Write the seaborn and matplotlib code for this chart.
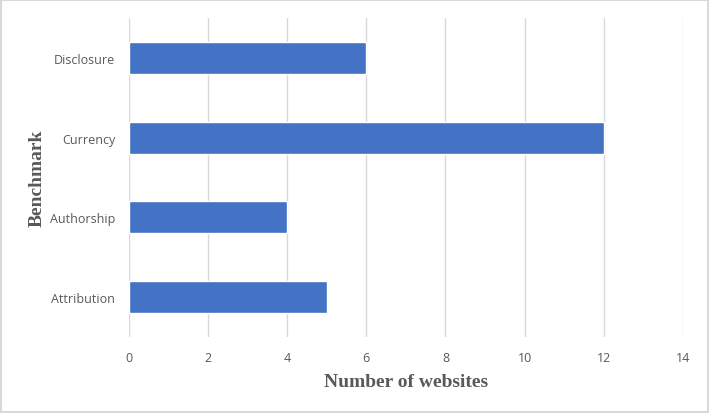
import matplotlib
matplotlib.use("Agg")
import matplotlib.pyplot as plt
import seaborn as sns
import pandas as pd

# data
benchmarks = ["Disclosure", "Currency", "Authorship", "Attribution"]
websites = [6, 12, 4, 5]
x_ticks = [0, 2, 4, 6, 8, 10, 12, 14]

df = pd.DataFrame({"Benchmark": benchmarks, "Websites": websites})

sns.set_theme(style="white")
plt.rcParams["font.family"] = ["Open Sans", "DejaVu Sans"]

fig = plt.figure(figsize=(7.09, 4.14), dpi=100)
ax = fig.add_axes([0.182, 0.184, 0.781, 0.770])

sns.barplot(data=df, x="Websites", y="Benchmark", orient="h",
            color="#4472C4", saturation=1, width=0.4, ax=ax, zorder=3)

ax.set_xlim(0, 14)
ax.set_xticks(x_ticks)
ax.grid(axis="x", color="#d9d9d9", linewidth=1, zorder=0)
ax.grid(axis="y", visible=False)
for s in ax.spines.values():
    s.set_visible(False)
ax.tick_params(axis="both", length=0, labelsize=9, colors="#595959")
ax.tick_params(axis="x", pad=10)
ax.tick_params(axis="y", pad=10)

ax.set_xlabel("Number of websites", family="Liberation Serif", fontweight="bold",
              fontsize=14, color="#595959", labelpad=7)
ax.set_ylabel("Benchmark", family="Liberation Serif", fontweight="bold",
              fontsize=14, color="#595959", labelpad=3)

# light frame around the whole picture
fig.patches.append(plt.Rectangle((0.001, 0.002), 0.997, 0.995, transform=fig.transFigure,
                                 fill=False, edgecolor="#d9d9d9", linewidth=1.5))

fig.savefig("out.png", dpi=100)
